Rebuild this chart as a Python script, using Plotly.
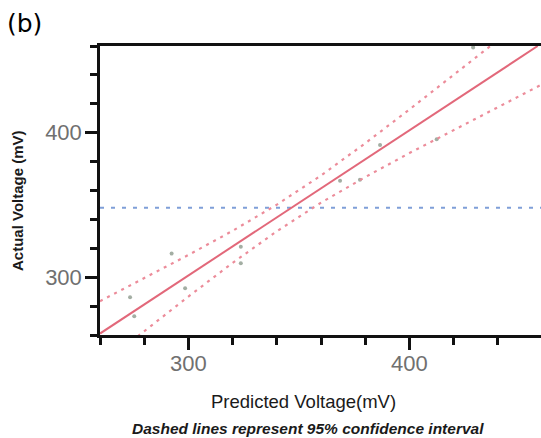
import plotly.graph_objects as go

# Data
fit_x = [260, 458]
fit_y = [261, 460]

band_x = [260, 280, 300, 320, 340, 360, 380, 400, 420, 440, 460]
upper_y = [283.4, 299.2, 315.4, 332.1, 350.2, 370.4, 392.7, 416.1, 440.1, 464.3, 488.0]
lower_y = [238.6, 262.8, 286.6, 309.9, 331.8, 351.6, 369.3, 385.9, 401.9, 417.7, 433.5]

mean_actual = 348
mean_x = [260, 460]

pts_x = [273.6, 275.5, 292.4, 298.5, 323.7, 323.7, 368.6, 377.6, 386.7, 412.3, 428.8]
pts_y = [286.2, 272.9, 316.4, 292.4, 321.0, 309.6, 366.8, 367.5, 391.5, 395.5, 459.0]

x_range = [260, 459.5]
y_range = [260, 460]
major_ticks = [300, 400]

fig = go.Figure()

fig.add_trace(go.Scatter(x=pts_x, y=pts_y, mode="markers",
                         marker=dict(size=4, color="#a3aea3"), showlegend=False))
fig.add_trace(go.Scatter(x=mean_x, y=[mean_actual, mean_actual], mode="lines",
                         line=dict(color="#7f9fd8", width=2, dash="4px,7px"), showlegend=False))
fig.add_trace(go.Scatter(x=band_x, y=upper_y, mode="lines",
                         line=dict(color="#ec8c9a", width=2.2, dash="3px,5px"), showlegend=False))
fig.add_trace(go.Scatter(x=band_x, y=lower_y, mode="lines",
                         line=dict(color="#ec8c9a", width=2.2, dash="3px,5px"), showlegend=False))
fig.add_trace(go.Scatter(x=fit_x, y=fit_y, mode="lines",
                         line=dict(color="#e2687a", width=2), showlegend=False))

axis_common = dict(
    showgrid=False, zeroline=False, showline=True, linecolor="#111", linewidth=2.5,
    ticks="outside", ticklen=12, tickwidth=2.5, tickcolor="#111",
    tickvals=major_ticks, ticktext=[str(v) for v in major_ticks],
    tickfont=dict(family="Liberation Sans, Arial", size=22, color="#707070"),
    minor=dict(ticks="outside", ticklen=7, tickwidth=2.5, tickcolor="#111", dtick=20, tick0=260),
)

fig.update_xaxes(range=x_range, mirror=True, ticklabelstandoff=-5, **axis_common)
fig.update_yaxes(range=y_range, ticklabelstandoff=-1, **axis_common)

def px_to_paper(px, py):
    return (px - 100) / 441, (335 - py) / 289

annos = []
x, y = px_to_paper(303, 401)
annos.append(dict(x=x, y=y, text="Predicted Voltage(mV)", showarrow=False,
                  font=dict(family="Liberation Sans, Arial", size=18.5, color="#1a1a1a"),
                  xanchor="center", yanchor="middle"))
x, y = px_to_paper(308, 428)
annos.append(dict(x=x, y=y, text="<b><i>Dashed lines represent 95% confidence interval</i></b>",
                  showarrow=False, font=dict(family="Liberation Sans, Arial", size=15.5, color="#1a1a1a"),
                  xanchor="center", yanchor="middle"))
x, y = px_to_paper(17, 201)
annos.append(dict(x=x, y=y, text="<b>Actual Voltage (mV)</b>", showarrow=False, textangle=-90,
                  font=dict(family="Liberation Sans, Arial", size=15, color="#1a1a1a"),
                  xanchor="center", yanchor="middle"))
x, y = px_to_paper(5, 24)
annos.append(dict(x=x, y=y, text="(b)", showarrow=False,
                  font=dict(family="DejaVu Sans, Noto Sans", size=25, color="#000"),
                  xanchor="left", yanchor="middle"))

fig.update_layout(
    width=541, height=438,
    margin=dict(l=100, r=0, t=46, b=103),
    paper_bgcolor="white", plot_bgcolor="white",
    annotations=[dict(a, xref="paper", yref="paper") for a in annos],
    showlegend=False,
)

fig.write_html("out.html", config={"displayModeBar": False},
               post_script="document.body.style.margin='0';")
